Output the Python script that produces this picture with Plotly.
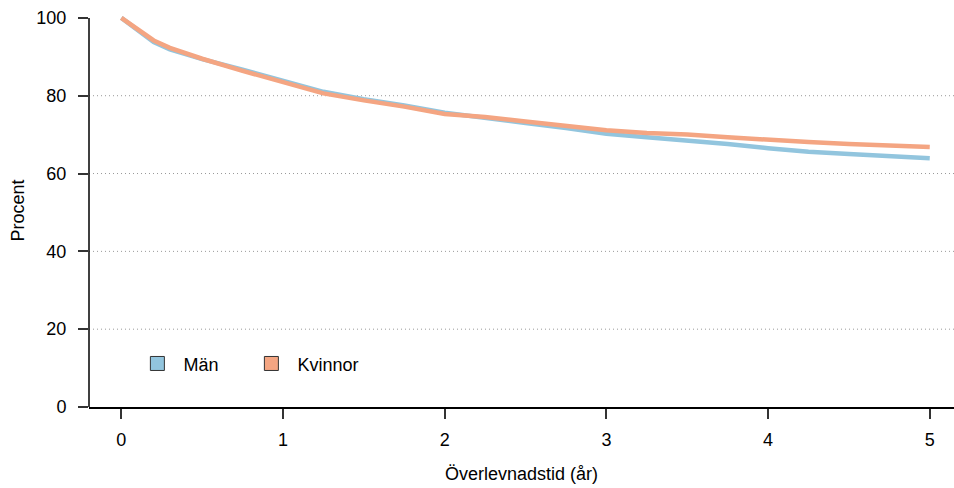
import plotly.graph_objects as go

time_years = [0, 0.1, 0.2, 0.3, 0.4, 0.5, 0.75, 1.0, 1.25, 1.5, 1.75, 2.0, 2.25, 2.5,
              2.75, 3.0, 3.25, 3.5, 3.75, 4.0, 4.25, 4.5, 4.75, 5.0]
man_pct = [100, 96.8, 93.8, 91.9, 90.6, 89.4, 86.7, 83.8, 81.0, 79.1, 77.5, 75.6, 74.4, 73.0,
           71.7, 70.2, 69.3, 68.5, 67.6, 66.5, 65.6, 65.0, 64.5, 63.9]
kvinnor_pct = [100, 97.0, 94.2, 92.3, 90.8, 89.5, 86.4, 83.4, 80.6, 78.8, 77.2, 75.3, 74.5, 73.4,
               72.3, 71.1, 70.4, 70.0, 69.3, 68.6, 68.1, 67.6, 67.2, 66.8]
series_names = ["Män", "Kvinnor"]
series_colors = ["#92C5DE", "#F4A582"]
x_ticks = [0, 1, 2, 3, 4, 5]
y_ticks = [0, 20, 40, 60, 80, 100]
grid_vals = [20, 40, 60, 80]

FONT = "Liberation Sans, Arial, sans-serif"

fig = go.Figure()
for name, vals, col in zip(series_names, [man_pct, kvinnor_pct], series_colors):
    fig.add_trace(go.Scatter(x=time_years, y=vals, mode="lines", name=name,
                             line=dict(color=col, width=4.5), showlegend=False,
                             hoverinfo="skip"))
for name, col in zip(series_names, series_colors):
    fig.add_trace(go.Scatter(x=[None], y=[None], mode="markers", name=name,
                             marker=dict(symbol="square", size=14, color=col,
                                         line=dict(color="#333333", width=1))))

for g in grid_vals:
    fig.add_shape(type="line", xref="paper", x0=0, x1=1, yref="y", y0=g, y1=g,
                  line=dict(color="#999999", width=1, dash="1px,3px"), layer="below")
# y axis line from 0 to 100
fig.add_shape(type="line", xref="paper", x0=0, x1=0, yref="y", y0=0, y1=100,
              line=dict(color="black", width=1.5))

fig.update_layout(
    width=954, height=488,
    margin=dict(l=89, r=0, t=14, b=81),
    paper_bgcolor="white", plot_bgcolor="white",
    font=dict(family=FONT, size=18, color="black"),
    legend=dict(orientation="h", x=0.049, y=0.11, xanchor="left", yanchor="middle",
                bgcolor="rgba(0,0,0,0)", font=dict(size=18), itemwidth=42,
                entrywidth=57, entrywidthmode="pixels"),
    xaxis=dict(range=[-0.2, 5.15], tickvals=x_ticks, showgrid=False, zeroline=False,
               showline=True, linecolor="black", linewidth=1.5, automargin=False,
               ticks="outside", ticklen=10, tickwidth=1.5, tickcolor="#333333",
               ticklabelstandoff=6,
               title=dict(text="Överlevnadstid (år)", standoff=18, font=dict(size=18))),
    yaxis=dict(range=[0, 101], tickvals=y_ticks, showgrid=False, zeroline=False,
               showline=False, ticks="outside", ticklen=10, tickwidth=1.5, automargin=False,
               tickcolor="#333333", ticklabelstandoff=8,
               title=dict(text="Procent", standoff=7, font=dict(size=18))),
)

fig.write_html("out.html", config={"displayModeBar": False},
               post_script="document.body.style.margin='0';document.body.style.overflow='hidden';")
